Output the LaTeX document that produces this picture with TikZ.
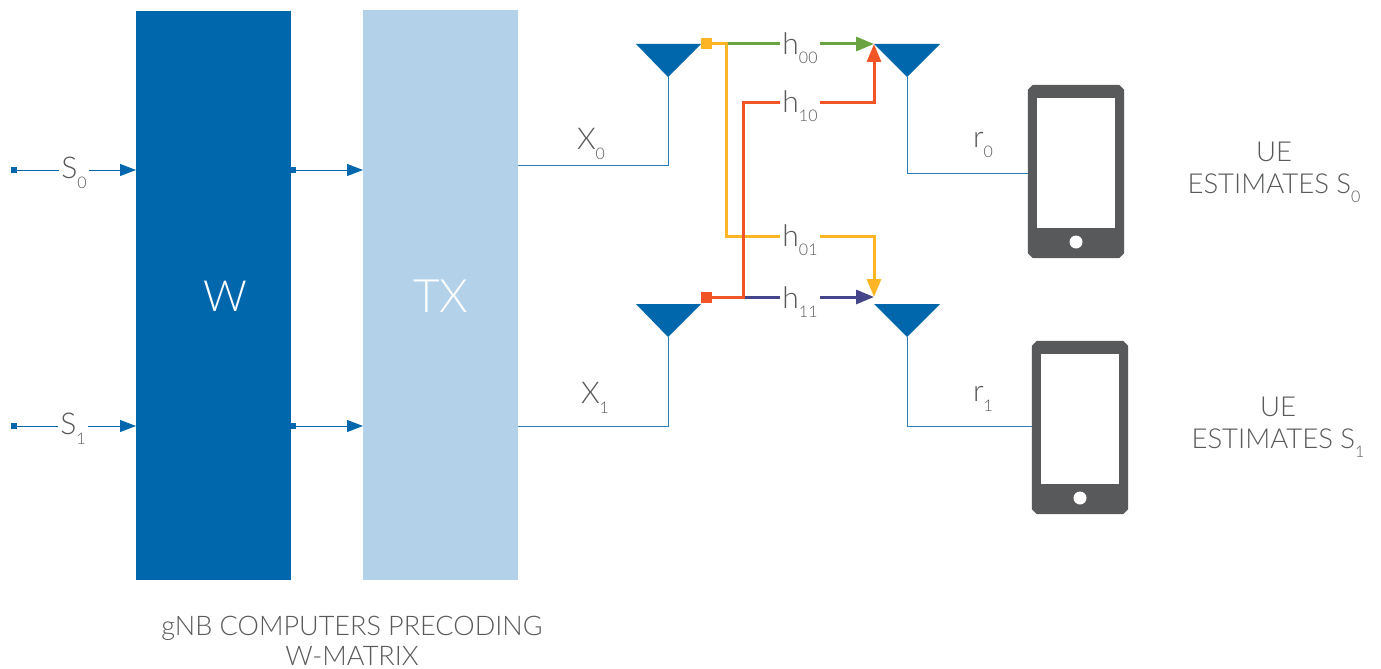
\documentclass[tikz,border=0pt]{standalone}
\usepackage{fontspec}
\setmainfont{Lato Light}
\usetikzlibrary{arrows.meta,calc}

\definecolor{wblue}{HTML}{0067AC}
\definecolor{txblue}{HTML}{B3D1E9}
\definecolor{linkblue}{HTML}{2E7DB8}
\definecolor{textgrey}{HTML}{58595B}
\definecolor{phonegrey}{HTML}{58595B}
\definecolor{hgreen}{HTML}{6AA342}
\definecolor{hred}{HTML}{F15526}
\definecolor{hyellow}{HTML}{FDB525}
\definecolor{hnavy}{HTML}{45458C}

\newcommand{\idx}[1]{\raisebox{-0.32em}{\fontsize{16}{16}\selectfont #1}}
\newcommand{\phonebody}[1]{\fill[phonegrey] ($(#1.north west)+(5,0)$) -- ($(#1.north east)+(-5,0)$) -- ($(#1.north east)+(0,5)$) -- ($(#1.south east)+(0,-5)$) -- ($(#1.south east)+(-5,0)$) -- ($(#1.south west)+(5,0)$) -- ($(#1.south west)+(0,-5)$) -- ($(#1.north west)+(0,5)$) -- cycle;}

\tikzset{
  lbl/.style={font=\fontsize{27.5}{32}\selectfont, text=textgrey, inner sep=0pt, align=center},
  siglbl/.style={lbl, font=\fontsize{30}{32}\selectfont},
  hlbl/.style={siglbl, fill=white, minimum width=39pt, minimum height=24pt},
  blocklbl/.style={font=\fontsize{43}{43}\selectfont, text=white, inner sep=0pt},
  block/.style={minimum width=155pt, minimum height=569pt, inner sep=0pt},
  stub/.style={fill=wblue, minimum size=6pt, inner sep=0pt},
  port/.style={minimum size=11pt, inner sep=0pt},
  sigline/.style={wblue, line width=1pt},
  feed/.style={linkblue, line width=1pt},
  chanline/.style={line width=3pt},
  sigtip/.style={-{Triangle[length=16pt,width=12pt]}},
  chantip/.style={-{Triangle[length=18pt,width=14pt]}},
  phone/.style={minimum width=96pt, minimum height=173pt, inner sep=0pt},
  screen/.style={fill=white, minimum width=78pt, minimum height=130pt, inner sep=0pt},
  homekey/.style={circle, fill=white, minimum size=13pt, inner sep=0pt}
}

\begin{document}
\begin{tikzpicture}[x=1pt,y=-1pt]
\useasboundingbox (0,0) rectangle (1381,669);

% Blocks
\node[block, fill=wblue] (wblock) at (213.5,295.5) {};
\node[block, fill=txblue] (txblock) at (440.5,295) {};
\node[blocklbl] (wlbl) at (225,296) {W};
\node[blocklbl, font=\fontsize{46}{46}\selectfont] (txlbl) at (441,296) {TX};

% Inputs
\node[stub] (in0) at (14,170) {};
\node[stub] (in1) at (14,426) {};
\node[siglbl, fill=white, minimum width=30pt] (s0) at (74,173) {S\idx{0}};
\node[siglbl, fill=white, minimum width=30pt] (s1) at (73,429) {S\idx{1}};
\coordinate (win0) at (136,170);
\coordinate (win1) at (136,426);
\draw[sigline] (in0) -- (s0.west |- in0);
\draw[sigline] (in1) -- (s1.west |- in1);
\draw[sigline, sigtip] (s0.east |- win0) -- (win0);
\draw[sigline, sigtip] (s1.east |- win1) -- (win1);

% W to TX
\node[stub] (wout0) at (293,170) {};
\node[stub] (wout1) at (293,426) {};
\coordinate (txin0) at (363,170);
\coordinate (txin1) at (363,426);
\draw[sigline, sigtip] (wout0) -- (txin0);
\draw[sigline, sigtip] (wout1) -- (txin1);

% Antennas
\fill[wblue] (636,44) -- (701,44) -- (668,77) -- cycle;
\fill[wblue] (636,304) -- (701,304) -- (668,337) -- cycle;
\fill[wblue] (874,44) -- (940,44) -- (907,77) -- cycle;
\fill[wblue] (874,304) -- (940,304) -- (907,337) -- cycle;
\coordinate (tx0ant) at (668,77);
\coordinate (tx1ant) at (668,337);
\coordinate (rx0ant) at (907,77);
\coordinate (rx1ant) at (907,337);

% Phones
\node[phone] (ue0) at (1076,171.5) {};
\phonebody{ue0}
\node[screen] at (1076,162.5) {};
\node[homekey] at (1076,242) {};
\node[phone] (ue1) at (1080,427.5) {};
\phonebody{ue1}
\node[screen] at (1080,418.5) {};
\node[homekey] at (1080,498) {};

% Feed lines
\coordinate (txout0) at (518,165);
\coordinate (txout1) at (518,426);
\draw[feed] (txout0) -| (tx0ant);
\draw[feed] (txout1) -| (tx1ant);
\draw[feed] (rx0ant) |- (ue0.west |- 0,173);
\draw[feed] (rx1ant) |- (ue1.west |- 0,426);
\node[siglbl] (x0) at (591,144) {X\idx{0}};
\node[siglbl] (x1) at (595,398) {X\idx{1}};
\node[siglbl] (r0) at (983,145) {r\idx{0}};
\node[siglbl] (r1) at (983,399) {r\idx{1}};

% Channel paths
\node[port, fill=hyellow] (port0) at (706,44) {};
\node[port, fill=hred] (port1) at (706,297) {};
\coordinate (tip0) at (874,44);
\coordinate (tip1) at (874,297);
\coordinate (split0) at (726,44);
\coordinate (split1) at (743,297);
\node[hlbl] (h00) at (800,48) {h\idx{00}};
\node[hlbl] (h10) at (800,106) {h\idx{10}};
\node[hlbl] (h01) at (800,240) {h\idx{01}};
\node[hlbl] (h11) at (800,302) {h\idx{11}};
\draw[chanline, hgreen] (split0) -- (h00.west |- split0);
\draw[chanline, hgreen, chantip] (h00.east |- split0) -- (tip0);
\draw[chanline, hnavy] (split1) -- (h11.west |- split1);
\draw[chanline, hnavy, chantip] (h11.east |- split1) -- (tip1);
\draw[chanline, hyellow] (port0) -- (split0) |- (h01.west |- 0,236);
\draw[chanline, hyellow, chantip] (h01.east |- 0,236) -| (tip1);
\draw[chanline, hred] (port1) -- (split1) |- (h10.west |- 0,102);
\draw[chanline, hred, chantip] (h10.east |- 0,102) -| (tip0);

% Captions
\node[lbl] (ue0lbl) at (1274,172.5) {UE\\ESTIMATES S\idx{0}};
\node[lbl] (ue1lbl) at (1278,427.5) {UE\\ESTIMATES S\idx{1}};
\node[lbl, font=\fontsize{27}{30}\selectfont] (gnblbl) at (352,641) {gNB COMPUTERS PRECODING\\W-MATRIX};
\end{tikzpicture}
\end{document}
